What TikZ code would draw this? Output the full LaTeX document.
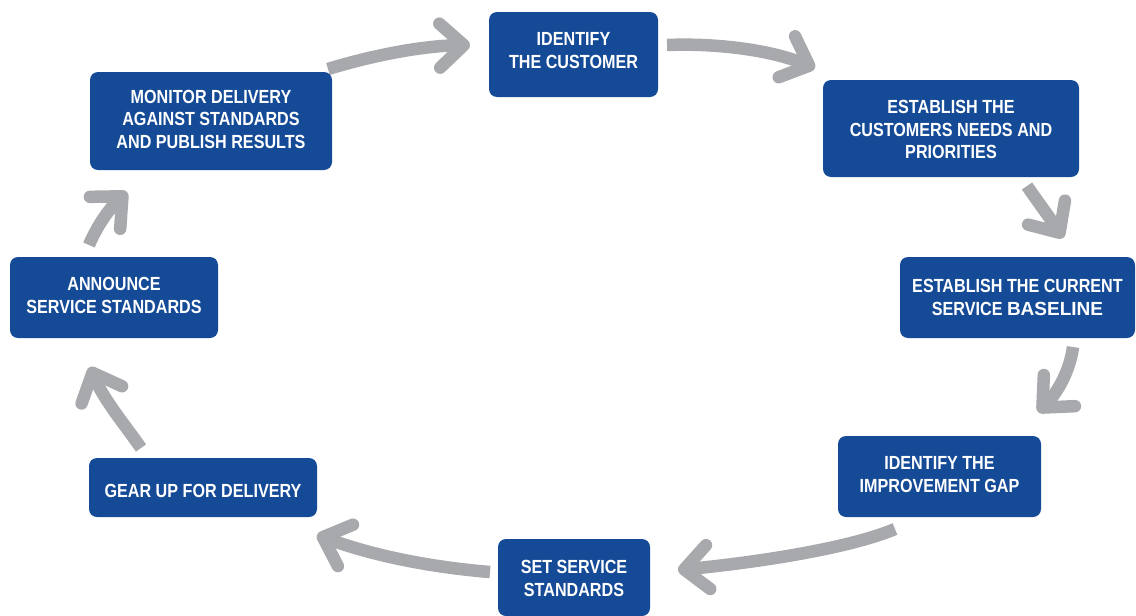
\documentclass[tikz,border=0pt]{standalone}
\usepackage{fontspec}
\newfontfamily\stepfont{Liberation Sans}[FakeStretch=0.85]
\newfontfamily\widefont{Liberation Sans}
\usetikzlibrary{arrows.meta}
\definecolor{stepblue}{HTML}{144A96}
\definecolor{flowgray}{HTML}{A7A9AC}
% centred lines of a step, shifted up by #1 without changing the box size
\newcommand\steplines[2]{\raisebox{#1}[\height][\depth]{\begin{tabular}{@{}c@{}}#2\end{tabular}}}
\tikzset{
  stepbox/.style={rectangle, rounded corners=8pt, fill=stepblue, text=white,
    align=center, inner sep=0pt,
    font=\stepfont\bfseries\fontsize{19}{22.5}\selectfont},
  flow/.style={draw=flowgray, line width=12.5pt,
    -{Straight Barb[length=24pt,width=44pt,round]}}
}
\begin{document}
\begin{tikzpicture}[x=1pt,y=-1pt]
\useasboundingbox (0,0) rectangle (1136,616);

% curved arrows of the cycle
\coordinate (a1s) at (328,69);   \coordinate (a1e) at (470,45);
\coordinate (a2s) at (667,45);   \coordinate (a2e) at (815,68);
\coordinate (a3s) at (1027,186); \coordinate (a3e) at (1063,238);
\coordinate (a4s) at (1073,347); \coordinate (a4e) at (1038,412);
\coordinate (a5s) at (895,529);  \coordinate (a5e) at (678,570);
\coordinate (a6s) at (490,572);  \coordinate (a6e) at (317,535);
\coordinate (a7s) at (141,448);  \coordinate (a7e) at (90,367);
\coordinate (a8s) at (89,245);   \coordinate (a8e) at (127,192);

\draw[flow] (a1s) .. controls (374,55) and (422,46) .. (a1e);
\draw[flow] (a2s) .. controls (717,43) and (770,50) .. (a2e);
\draw[flow] (a3s) .. controls (1038,202) and (1050,218) .. (a3e);
\draw[flow] (a4s) .. controls (1070,370) and (1058,392) .. (a4e);
\draw[flow] (a5s) .. controls (850,548) and (760,562) .. (a5e);
\draw[flow] (a6s) .. controls (440,568) and (380,558) .. (a6e);
\draw[flow] (a7s) .. controls (125,425) and (104,400) .. (a7e);
\draw[flow] (a8s) .. controls (96,228) and (108,210) .. (a8e);

% process steps
\node[stepbox, minimum width=169pt, minimum height=85pt] (identify) at (573.5,54.5)
  {\steplines{2pt}{IDENTIFY\\THE CUSTOMER}};
\node[stepbox, minimum width=256pt, minimum height=97pt] (needs) at (951,128.5)
  {\steplines{-3pt}{ESTABLISH THE\\CUSTOMERS NEEDS AND\\PRIORITIES}};
\node[stepbox, minimum width=235pt, minimum height=81pt] (baseline) at (1017.5,297.5)
  {\steplines{-2pt}{ESTABLISH THE CURRENT\\SERVICE {\widefont BASELINE}}};
\node[stepbox, minimum width=203pt, minimum height=81pt] (gap) at (939.5,476.5)
  {\steplines{0pt}{IDENTIFY THE\\IMPROVEMENT GAP}};
\node[stepbox, minimum width=152pt, minimum height=77pt] (setstd) at (574,577.5)
  {\steplines{-3pt}{SET SERVICE\\STANDARDS}};
\node[stepbox, minimum width=228pt, minimum height=59pt] (gear) at (203,487.5)
  {\steplines{-5pt}{GEAR UP FOR DELIVERY}};
\node[stepbox, minimum width=208pt, minimum height=81pt] (announce) at (114,297.5)
  {\steplines{0pt}{ANNOUNCE\\SERVICE STANDARDS}};
\node[stepbox, minimum width=242pt, minimum height=98pt] (monitor) at (211,121)
  {\steplines{0pt}{MONITOR DELIVERY\\AGAINST STANDARDS\\AND PUBLISH RESULTS}};
\end{tikzpicture}
\end{document}
